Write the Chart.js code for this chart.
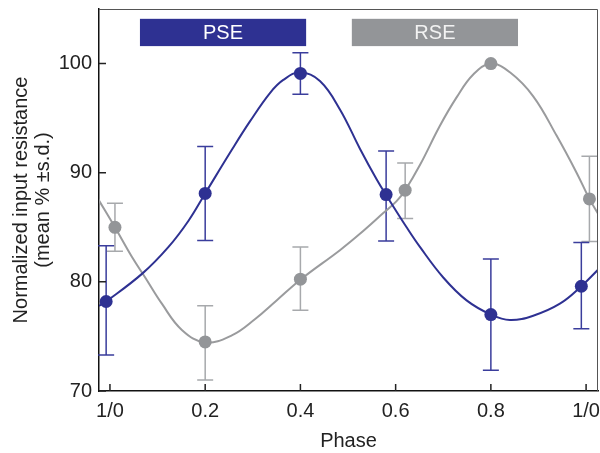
<!DOCTYPE html>
<html>
<head>
<meta charset="utf-8">
<script src="https://cdn.jsdelivr.net/npm/chart.js@4"></script>
<style>
  html, body { margin: 0; padding: 0; background: #fff; }
  #wrap { width: 600px; height: 453px; }
</style>
</head>
<body>
<div id="wrap"><canvas id="chart"></canvas></div>
<script>
// Tick values / labels
const xTickValues = [0, 0.2, 0.4, 0.6, 0.8, 1.0];
const xTickLabels = ['1/0', '0.2', '0.4', '0.6', '0.8', '1/0'];
const yTickValues = [70, 80, 90, 100];

// PSE measurements (mean, ±s.d.)
const psePhase = [-0.008, 0.2, 0.4, 0.58, 0.8, 0.99];
const pseMean  = [78.2, 88.1, 99.1, 88.0, 77.0, 79.6];
const pseLow   = [73.3, 83.8, 97.2, 83.75, 71.9, 75.7];
const pseHigh  = [83.3, 92.4, 101.0, 92.0, 82.1, 83.6];

// RSE measurements (mean, ±s.d.)
const rsePhase = [0.0105, 0.2, 0.4, 0.62, 0.8, 1.007];
const rseMean  = [85.0, 74.5, 80.25, 88.4, 100.0, 87.6];
const rseLow   = [82.8, 71.0, 77.4, 85.8, null, 83.7];
const rseHigh  = [87.2, 77.8, 83.2, 90.9, null, 91.5];

// Fitted curves
const pseFitPhase = [-0.023, -0.008, 0.069, 0.123, 0.165, 0.2, 0.256, 0.294, 0.336, 0.364, 0.4, 0.441, 0.483, 0.525, 0.56, 0.58, 0.623, 0.651, 0.7, 0.749, 0.8, 0.84, 0.889, 0.945, 0.99, 1.027];
const pseFitValue = [77.8, 78.2, 80.8, 83.2, 85.6, 88.1, 92.1, 94.7, 97.3, 98.5, 99.2, 98.4, 95.8, 92.2, 89.4, 87.96, 85.0, 83.2, 80.4, 78.3, 77.0, 76.5, 76.9, 78.0, 79.6, 81.2];
const rseFitPhase = [-0.025, 0.0105, 0.046, 0.074, 0.109, 0.151, 0.2, 0.256, 0.305, 0.35, 0.4, 0.483, 0.525, 0.574, 0.602, 0.62, 0.651, 0.693, 0.728, 0.763, 0.8, 0.84, 0.889, 0.938, 0.98, 1.007, 1.027];
const rseFitValue = [87.6, 85.0, 82.3, 80.4, 78.0, 75.6, 74.45, 75.1, 76.6, 78.3, 80.2, 82.9, 84.4, 86.3, 87.4, 88.4, 90.7, 94.3, 96.9, 99.0, 100.0, 99.2, 97.0, 93.4, 90.0, 87.6, 86.1];

const BLUE = '#2e3192';
const GREY = '#939598';
const FONT = "'Liberation Sans', Arial, Helvetica, sans-serif";

const toXY = (xs, ys) => xs.map((x, i) => ({ x, y: ys[i] }));

// error bars, inward ticks, frame and the PSE/RSE label boxes
const extras = {
    id: 'extras',
    beforeDatasetsDraw(chart) {
        const { ctx, scales: { x, y } } = chart;
        const cap = 8;
        const drawBars = (xs, lo, hi, color) => {
            ctx.save();
            ctx.strokeStyle = color;
            ctx.lineWidth = 1.5;
            xs.forEach((p, i) => {
                if (lo[i] == null) return;
                const px = x.getPixelForValue(p);
                const y1 = y.getPixelForValue(lo[i]);
                const y2 = y.getPixelForValue(hi[i]);
                ctx.beginPath();
                ctx.moveTo(px, y1); ctx.lineTo(px, y2);
                ctx.moveTo(px - cap, y1); ctx.lineTo(px + cap, y1);
                ctx.moveTo(px - cap, y2); ctx.lineTo(px + cap, y2);
                ctx.stroke();
            });
            ctx.restore();
        };
        drawBars(rsePhase, rseLow, rseHigh, '#a7a9ac');
        drawBars(psePhase, pseLow, pseHigh, '#3a3d9c');

        // label boxes
        const boxes = [
            { from: 0.063, to: 0.412, text: 'PSE', fill: BLUE, color: '#ffffff' },
            { from: 0.508, to: 0.857, text: 'RSE', fill: GREY, color: '#f2f2f2' }
        ];
        ctx.save();
        boxes.forEach(b => {
            const x1 = x.getPixelForValue(b.from);
            const x2 = x.getPixelForValue(b.to);
            const y1 = y.getPixelForValue(104.1);
            const y2 = y.getPixelForValue(101.6);
            ctx.fillStyle = b.fill;
            ctx.fillRect(x1, y1, x2 - x1, y2 - y1);
            ctx.fillStyle = b.color;
            ctx.font = '20px ' + FONT;
            ctx.textAlign = 'center';
            ctx.textBaseline = 'middle';
            ctx.fillText(b.text, (x1 + x2) / 2, (y1 + y2) / 2 + 1);
        });
        ctx.restore();
    },
    afterDraw(chart) {
        const { ctx, chartArea: a, scales: { x, y } } = chart;
        ctx.save();
        // frame top/right
        ctx.strokeStyle = '#555';
        ctx.lineWidth = 1;
        ctx.beginPath();
        ctx.moveTo(a.left, a.top + 0.5);
        ctx.lineTo(a.right - 0.5, a.top + 0.5);
        ctx.lineTo(a.right - 0.5, a.bottom);
        ctx.stroke();
        // inward ticks
        ctx.strokeStyle = '#222';
        ctx.lineWidth = 1.5;
        ctx.beginPath();
        xTickValues.forEach(v => {
            const px = x.getPixelForValue(v);
            ctx.moveTo(px, a.bottom); ctx.lineTo(px, a.bottom - 7);
        });
        yTickValues.forEach(v => {
            const py = y.getPixelForValue(v);
            ctx.moveTo(a.left, py); ctx.lineTo(a.left + 7, py);
        });
        ctx.stroke();
        ctx.restore();
    }
};

new Chart(document.getElementById('chart'), {
    type: 'scatter',
    data: {
        datasets: [
            {
                label: 'PSE',
                data: toXY(psePhase, pseMean),
                backgroundColor: BLUE,
                borderColor: BLUE,
                pointRadius: 6.5,
                pointHoverRadius: 6.5,
                borderWidth: 0,
                order: 1
            },
            {
                label: 'RSE',
                data: toXY(rsePhase, rseMean),
                backgroundColor: GREY,
                borderColor: GREY,
                pointRadius: 6.5,
                pointHoverRadius: 6.5,
                borderWidth: 0,
                order: 2
            },
            {
                label: 'PSE fit',
                data: toXY(pseFitPhase, pseFitValue),
                showLine: true,
                borderColor: BLUE,
                borderWidth: 2,
                pointRadius: 0,
                tension: 0.4,
                order: 3
            },
            {
                label: 'RSE fit',
                data: toXY(rseFitPhase, rseFitValue),
                showLine: true,
                borderColor: '#9a9b9d',
                borderWidth: 2,
                pointRadius: 0,
                tension: 0.4,
                order: 4
            }
        ]
    },
    options: {
        responsive: true,
        maintainAspectRatio: false,
        animation: false,
        layout: { autoPadding: false, padding: { top: 9, right: 2, left: 0, bottom: 0 } },
        plugins: {
            legend: { display: false },
            tooltip: { enabled: false }
        },
        scales: {
            x: {
                type: 'linear',
                min: -0.023,
                max: 1.025,
                afterBuildTicks: s => { s.ticks = xTickValues.map(v => ({ value: v })); },
                afterFit: s => { s.height = 62; s.paddingLeft = 0; s.paddingRight = 0; },
                grid: { display: false, drawTicks: false },
                border: { display: true, color: '#111', width: 1.5 },
                ticks: {
                    padding: 8,
                    color: '#222',
                    maxRotation: 0,
                    font: { family: FONT, size: 20 },
                    callback: (v) => {
                        const i = xTickValues.findIndex(t => Math.abs(t - v) < 1e-6);
                        return i >= 0 ? xTickLabels[i] : '';
                    }
                },
                title: {
                    display: true,
                    text: 'Phase',
                    color: '#222',
                    font: { family: FONT, size: 20, lineHeight: 1.1 },
                    padding: { top: 0, bottom: 1 }
                }
            },
            y: {
                min: 70,
                max: 105,
                afterBuildTicks: s => { s.ticks = yTickValues.map(v => ({ value: v })); },
                afterFit: s => { s.width = 99; s.paddingTop = 0; s.paddingBottom = 0; },
                grid: { display: false, drawTicks: false },
                border: { display: true, color: '#111', width: 1.5 },
                ticks: {
                    padding: 7,
                    color: '#222',
                    font: { family: FONT, size: 20 }
                },
                title: {
                    display: true,
                    text: ['Normalized input resistance', '(mean % \u00b1s.d.)'],
                    color: '#222',
                    font: { family: FONT, size: 20, lineHeight: 1.1 },
                    padding: { top: 10, bottom: 0 }
                }
            }
        }
    },
    plugins: [extras]
});
</script>
</body>
</html>
